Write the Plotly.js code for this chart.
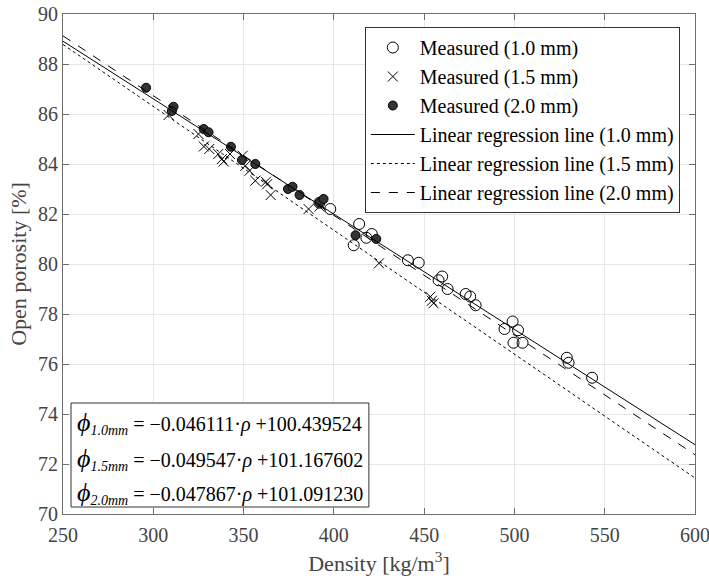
<!DOCTYPE html>
<html>
<head>
<meta charset="utf-8">
<script src="https://cdn.plot.ly/plotly-3.0.1.min.js"></script>
<style>html,body{margin:0;padding:0;background:#fff;}#chart{width:709px;height:578px;}</style>
</head>
<body>
<div id="chart"></div>
<script>
const dens10 = [392, 398, 411, 414, 418, 421, 441, 447, 458, 460, 463, 473, 475.5, 478.5, 494.5, 499, 499.5, 502, 504.5, 529, 530, 543];
const por10  = [82.45, 82.2, 80.75, 81.6, 81.05, 81.2, 80.15, 80.05, 79.35, 79.5, 79.0, 78.8, 78.7, 78.35, 77.4, 77.7, 76.85, 77.35, 76.85, 76.25, 76.05, 75.45];

const dens15 = [308.5, 325, 328, 331, 336, 338, 339, 342.5, 349.5, 351, 353.3, 356.5, 362.4, 363, 365, 386, 392, 425, 453.4, 454.3, 455.2];
const por15  = [85.96, 85.2, 84.7, 84.6, 84.4, 84.2, 84.1, 84.4, 84.33, 83.93, 83.73, 83.33, 83.29, 83.19, 82.76, 82.2, 82.3, 80.03, 78.69, 78.53, 78.43];

const dens20 = [296, 311.2, 310.3, 327.9, 330.6, 343, 349.1, 356.5, 374.6, 377.1, 381, 392, 394.3, 412, 423.5];
const por20  = [87.05, 86.29, 86.12, 85.4, 85.27, 84.69, 84.16, 84.0, 83.0, 83.09, 82.76, 82.45, 82.6, 81.15, 81.0];

// Regression coefficients (slope, intercept) as printed on the chart
const slopes = [-0.046111, -0.049547, -0.047867];
const intercepts = [100.439524, 101.167602, 101.091230];
const lineRange = [250, 600];
const seriesNames = ["1.0 mm", "1.5 mm", "2.0 mm"];
const eqSubs = ["1.0mm", "1.5mm", "2.0mm"];

const xTicks = [250, 300, 350, 400, 450, 500, 550, 600];
const yTicks = [70, 72, 74, 76, 78, 80, 82, 84, 86, 88, 90];

const FONT = "Liberation Serif";

const traces = [
  {x: dens10, y: por10, mode: "markers", type: "scatter", name: "Measured (" + seriesNames[0] + ")",
   marker: {symbol: "circle-open", size: 11, color: "#000", line: {width: 1, color: "#000"}}},
  {x: dens15, y: por15, mode: "markers", type: "scatter", name: "Measured (" + seriesNames[1] + ")",
   marker: {symbol: "x-thin-open", size: 10, color: "#000", line: {width: 1, color: "#000"}}},
  {x: dens20, y: por20, mode: "markers", type: "scatter", name: "Measured (" + seriesNames[2] + ")",
   marker: {symbol: "circle", size: 9, color: "#333", line: {width: 1, color: "#000"}}}
];
const dashes = ["solid", "dot", "dash"];
for (let i = 0; i < 3; i++) {
  traces.push({
    x: lineRange.slice(),
    y: lineRange.map(v => slopes[i] * v + intercepts[i]),
    mode: "lines", type: "scatter",
    name: "Linear regression line (" + seriesNames[i] + ")",
    line: {color: "#000", width: 1, dash: dashes[i]}
  });
}

function fmt(v, d) { return Math.abs(v).toFixed(d); }

const eqY = [0.183, 0.110, 0.043];
const annotations = [];
for (let i = 0; i < 3; i++) {
  annotations.push({
    xref: "paper", yref: "paper", x: 0.019, y: eqY[i], xanchor: "left", yanchor: "middle",
    showarrow: false, align: "left",
    font: {family: FONT, size: 20, color: "#000"},
    text: '<span style="font-size:26px"><i>ϕ</i></span><sub><i>' + eqSubs[i] + '</i></sub> = −' +
          fmt(slopes[i], 6) + '·<i>ρ</i> +' + intercepts[i].toFixed(6)
  });
}

const axisCommon = {
  showline: true, mirror: "ticks", linecolor: "#6e6e6e", linewidth: 1,
  ticks: "inside", ticklen: 6, tickcolor: "#6e6e6e", tickwidth: 1,
  showgrid: true, gridcolor: "#e6e6e6", gridwidth: 1, zeroline: false,
  ticklabeloverflow: "allow",
  tickfont: {family: FONT, size: 20, color: "#444"}
};

const layout = {
  width: 709, height: 578,
  margin: {l: 63, r: 14, t: 14, b: 64},
  paper_bgcolor: "#fff", plot_bgcolor: "#fff",
  font: {family: FONT, color: "#000"},
  showlegend: true,
  legend: {
    x: 0.976, y: 0.974, xanchor: "right", yanchor: "top",
    bgcolor: "#fff", bordercolor: "#333", borderwidth: 1,
    font: {family: FONT, size: 20, color: "#000"},
    tracegroupgap: 0, itemwidth: 44
  },
  xaxis: Object.assign({}, axisCommon, {
    range: [250, 600], tickvals: xTicks, ticktext: xTicks.map(String),
    ticklabelstandoff: 3,
    title: {text: "Density [kg/m<sup>3</sup>]", font: {family: FONT, size: 22, color: "#444"}, standoff: 10}
  }),
  yaxis: Object.assign({}, axisCommon, {
    range: [70, 90], tickvals: yTicks, ticktext: yTicks.map(String),
    title: {text: "Open porosity [%]", font: {family: FONT, size: 22, color: "#444"}, standoff: 5}
  }),
  shapes: [{
    type: "rect", xref: "paper", yref: "paper",
    x0: 0.0127, x1: 0.484, y0: 0.014, y1: 0.222,
    line: {color: "#333", width: 1}, fillcolor: "#fff", layer: "above"
  }],
  annotations: annotations
};

Plotly.newPlot("chart", traces, layout, {staticPlot: true, displayModeBar: false});
</script>
</body>
</html>
